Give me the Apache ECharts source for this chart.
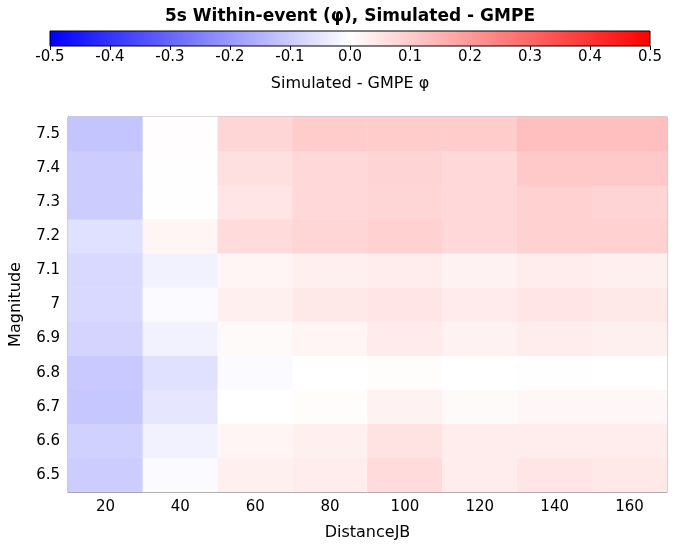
<!DOCTYPE html>
<html>
<head>
<meta charset="utf-8">
<script src="https://cdn.jsdelivr.net/npm/echarts@6/dist/echarts.min.js"></script>
<style>html,body{margin:0;background:#fff}#main{width:700px;height:550px}</style>
</head>
<body>
<div id="main"></div>
<script>
var distances = ['20', '40', '60', '80', '100', '120', '140', '160'];
var magnitudes = ['6.5', '6.6', '6.7', '6.8', '6.9', '7', '7.1', '7.2', '7.3', '7.4', '7.5'];
// rows: magnitude 6.5 -> 7.5, columns: distance 20 -> 160
var m65 = [-0.100, -0.010, 0.030, 0.035, 0.070, 0.035, 0.050, 0.045];
var m66 = [-0.090, -0.025, 0.020, 0.030, 0.055, 0.035, 0.035, 0.035];
var m67 = [-0.110, -0.050, 0.000, 0.005, 0.025, 0.010, 0.015, 0.015];
var m68 = [-0.105, -0.060, -0.010, 0.000, 0.005, 0.000, 0.002, 0.000];
var m69 = [-0.085, -0.025, 0.010, 0.020, 0.040, 0.025, 0.035, 0.030];
var m70 = [-0.075, -0.010, 0.030, 0.045, 0.050, 0.040, 0.050, 0.045];
var m71 = [-0.075, -0.025, 0.020, 0.030, 0.035, 0.025, 0.035, 0.030];
var m72 = [-0.060, 0.020, 0.070, 0.080, 0.090, 0.075, 0.090, 0.090];
var m73 = [-0.100, 0.001, 0.050, 0.075, 0.080, 0.075, 0.090, 0.085];
var m74 = [-0.100, 0.002, 0.060, 0.075, 0.085, 0.075, 0.105, 0.105];
var m75 = [-0.115, 0.003, 0.080, 0.100, 0.100, 0.100, 0.125, 0.125];
var rows = [m65, m66, m67, m68, m69, m70, m71, m72, m73, m74, m75];

var cells = [];
rows.forEach(function (row, j) {
    row.forEach(function (v, i) { cells.push([i, j, v]); });
});

var font = 'DejaVu Sans';
var myChart = echarts.init(document.getElementById('main'));
myChart.setOption({
    textStyle: { fontFamily: font },
    title: {
        text: '5s Within-event (φ), Simulated - GMPE',
        left: 'center', top: 3,
        textStyle: { fontFamily: font, fontSize: 17, fontWeight: 'bold', color: '#000' }
    },
    visualMap: {
        show: false, min: -0.5, max: 0.5, seriesIndex: 0,
        inRange: { color: ['#0000ff', '#ffffff', '#ff0000'] }
    },
    grid: [
        { left: 66, right: 33, top: 117, bottom: 58, show: true, borderColor: '#999', backgroundColor: 'transparent' },
        {   // colour bar
            left: 50, right: 50, top: 31, height: 15, show: true, borderColor: '#000',
            backgroundColor: new echarts.graphic.LinearGradient(0, 0, 1, 0, [
                { offset: 0, color: '#0000ff' }, { offset: 0.5, color: '#ffffff' }, { offset: 1, color: '#ff0000' }
            ])
        }
    ],
    xAxis: [
        {
            type: 'category', data: distances, gridIndex: 0,
            name: 'DistanceJB', nameLocation: 'middle', nameGap: 33,
            nameTextStyle: { fontSize: 16, color: '#000' },
            axisLine: { lineStyle: { color: '#999' } },
            axisTick: { alignWithLabel: true, length: 4, lineStyle: { color: '#666' } },
            axisLabel: { fontSize: 15, color: '#000' },
            splitLine: { show: false }
        },
        {
            type: 'value', gridIndex: 1, min: -0.5, max: 0.5, interval: 0.1,
            position: 'bottom',
            name: 'Simulated - GMPE φ', nameLocation: 'middle', nameGap: 30,
            nameTextStyle: { fontSize: 16, color: '#000' },
            axisLine: { show: false },
            axisTick: { length: 4, lineStyle: { color: '#000' } },
            axisLabel: { fontSize: 15, color: '#000', margin: 4, formatter: function (v) { return v.toFixed(1); } },
            splitLine: { show: false }
        }
    ],
    yAxis: [
        {
            type: 'category', data: magnitudes, gridIndex: 0,
            name: 'Magnitude', nameLocation: 'middle', nameGap: 44, nameRotate: 90,
            nameTextStyle: { fontSize: 16, color: '#000' },
            axisLine: { lineStyle: { color: '#999' } },
            axisTick: { alignWithLabel: true, length: 4, lineStyle: { color: '#666' } },
            axisLabel: { fontSize: 15, color: '#000' },
            splitLine: { show: false }
        },
        { type: 'value', gridIndex: 1, show: false, min: 0, max: 1 }
    ],
    series: [{
        type: 'heatmap', xAxisIndex: 0, yAxisIndex: 0,
        data: cells,
        itemStyle: { borderWidth: 0 },
        emphasis: { disabled: true }
    }]
});
</script>
</body>
</html>
